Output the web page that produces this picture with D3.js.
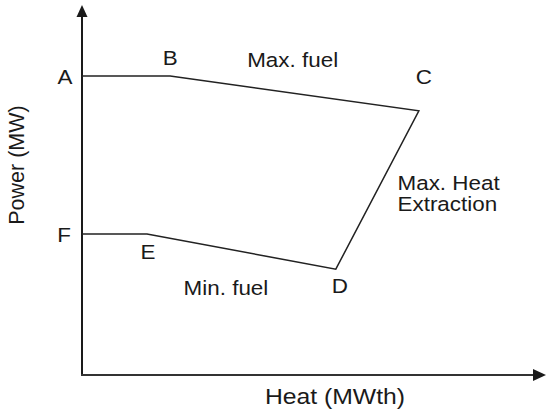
<!DOCTYPE html>
<html>
<head>
<meta charset="utf-8">
<script src="https://cdn.jsdelivr.net/npm/d3@7"></script>
<style>
  body { margin: 0; background: #fff; }
  text { font-family: "Liberation Sans", Arial, sans-serif; fill: #1a1a1a; }
</style>
</head>
<body>
<svg width="550" height="414"></svg>
<script>
// operating region corners (arbitrary units 0-100)
var points = ["A", "B", "C", "D", "E", "F"];
var heat = [0, 19, 72.6, 54.7, 14, 0];
var power = [80.8, 80.8, 71.4, 28.6, 38.1, 38.1];

// edge captions and where they sit (same units)
var captions = ["Max. fuel", "Max. Heat", "Extraction", "Min. fuel"];
var captionHeat = [35.6, 68, 68, 21.9];
var captionPower = [83.2, 50, 44.3, 21.6];

var xTitle = "Heat (MWth)";
var yTitle = "Power (MW)";

var svg = d3.select("svg");
var x = d3.scaleLinear().domain([0, 100]).range([82, 546]);
var y = d3.scaleLinear().domain([0, 100]).range([375, 5]);

var ink = "#1a1a1a";
var stretch = 1.15; // the reference letters are a bit wide

// label offsets from each corner, in pixels
var labelOff = {
  A: [-17, 8], B: [0, -11], C: [5, -27], D: [4, 24], E: [1, 25], F: [-18, 8]
};

// axes
svg.append("line")
  .attr("x1", x(0)).attr("y1", y(0))
  .attr("x2", x(0)).attr("y2", y(100) + 10)
  .attr("stroke", ink).attr("stroke-width", 2);
svg.append("line")
  .attr("x1", x(0) - 1).attr("y1", y(0))
  .attr("x2", x(100) - 10).attr("y2", y(0))
  .attr("stroke", "#333").attr("stroke-width", 2);

// arrow heads
svg.append("path")
  .attr("d", "M" + x(0) + "," + y(100) + " l-5.5,12 l11,0 z")
  .attr("fill", ink);
svg.append("path")
  .attr("d", "M" + x(100) + "," + y(0) + " l-13,-6 l0,12 z")
  .attr("fill", ink);

// region boundary
var pts = points.map(function(p, i) { return {name: p, h: heat[i], p: power[i]}; });
var line = d3.line()
  .x(function(d) { return x(d.h); })
  .y(function(d) { return y(d.p); });

svg.append("path")
  .datum(pts)
  .attr("d", line)
  .attr("fill", "none")
  .attr("stroke", "#222")
  .attr("stroke-width", 1.5)
  .attr("stroke-linejoin", "miter");

// corner letters
svg.selectAll("text.pt")
  .data(pts)
  .enter()
  .append("text")
  .classed("pt", true)
  .attr("text-anchor", "middle")
  .attr("font-size", 19.5)
  .attr("transform", function(d) {
    var o = labelOff[d.name];
    return "translate(" + (x(d.h) + o[0]) + "," + (y(d.p) + o[1]) + ") scale(" + stretch + ",1)";
  })
  .text(function(d) { return d.name; });

// captions
svg.selectAll("text.cap")
  .data(captions)
  .enter()
  .append("text")
  .classed("cap", true)
  .attr("font-size", 19.5)
  .attr("transform", function(d, i) {
    return "translate(" + x(captionHeat[i]) + "," + y(captionPower[i]) + ") scale(" + stretch + ",1)";
  })
  .text(function(d) { return d; });

// axis titles
svg.append("text")
  .attr("text-anchor", "middle")
  .attr("font-size", 21.5)
  .attr("transform", "translate(335,404) scale(" + stretch + ",1)")
  .text(xTitle);

svg.append("text")
  .attr("text-anchor", "middle")
  .attr("font-size", 21.5)
  .attr("transform", "translate(24,165) rotate(-90)")
  .text(yTitle);
</script>
</body>
</html>
